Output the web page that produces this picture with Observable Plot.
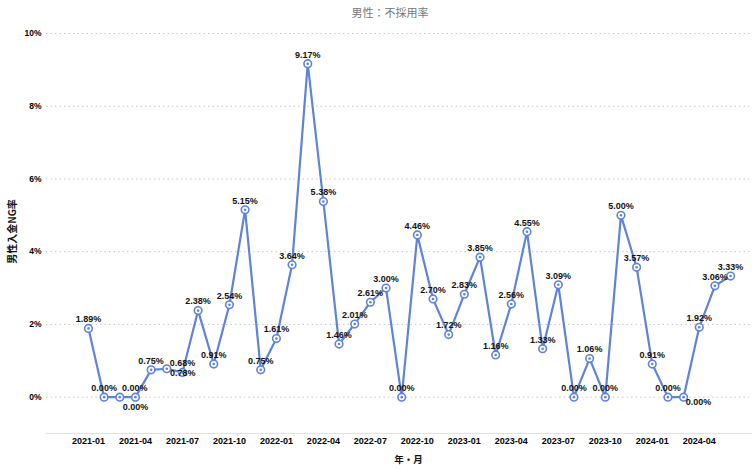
<!DOCTYPE html>
<html><head><meta charset="utf-8">
<script src="https://cdn.jsdelivr.net/npm/d3@7"></script>
<script src="https://cdn.jsdelivr.net/npm/@observablehq/plot@0.6"></script>
<style>
body{margin:0;background:#fff;font-family:"Liberation Sans",Arial,sans-serif;}
#title{height:24px;line-height:24px;text-align:center;font-family:"Noto Sans CJK JP",sans-serif;font-size:11px;color:#777;padding-left:28px;box-sizing:border-box;width:752px;}
</style></head><body>
<div id="title">男性：不採用率</div>
<div id="chart"></div>
<script>
const months = [
 "2021-01","2021-02","2021-03","2021-04","2021-05","2021-06","2021-07","2021-08","2021-09","2021-10","2021-11","2021-12",
 "2022-01","2022-02","2022-03","2022-04","2022-05","2022-06","2022-07","2022-08","2022-09","2022-10","2022-11","2022-12",
 "2023-01","2023-02","2023-03","2023-04","2023-05","2023-06","2023-07","2023-08","2023-09","2023-10","2023-11","2023-12",
 "2024-01","2024-02","2024-03","2024-04","2024-05","2024-06"];
const rates = [
 1.89,0.00,0.00,0.00,0.75,0.78,0.68,2.38,0.91,2.54,5.15,0.75,
 1.61,3.64,9.17,5.38,1.46,2.01,2.61,3.00,0.00,4.46,2.70,1.72,
 2.83,3.85,1.16,2.56,4.55,1.33,3.09,0.00,1.06,0.00,5.00,3.57,
 0.91,0.00,0.00,1.92,3.06,3.33];
const xTickLabels = ["2021-01","2021-04","2021-07","2021-10","2022-01","2022-04","2022-07","2022-10","2023-01","2023-04","2023-07","2023-10","2024-01","2024-04"];
const yTicks = [0,2,4,6,8,10];
const labelsBelow = ["2021-04"];
const labelsAboveRight = ["2021-03"];
const labelsBelowRight = ["2024-03"];
const labelsRight = ["2021-06"];

const data = months.map((m,i)=>({i, m, v: rates[i]}));
const xTickIdx = xTickLabels.map(t=>months.indexOf(t));
const color = "#5f83d9";
const fmt = d => d.v.toFixed(2) + "%";
const special = new Set([...labelsBelow,...labelsAboveRight,...labelsBelowRight,...labelsRight]);
const lab = {fontSize:9, fontWeight:"bold", fill:"#111", text: fmt, x:"i", y:"v"};
const pick = arr => data.filter(d=>arr.includes(d.m));

const chart = Plot.plot({
  width:752, height:445,
  marginLeft:46, marginRight:0, marginTop:9, marginBottom:36,
  style:{fontFamily:"'Liberation Sans', Arial, sans-serif", background:"#fff"},
  x:{domain:[-2.68,42.4], axis:null},
  y:{domain:[-1,10], axis:null},
  marks:[
    Plot.gridY(yTicks,{stroke:"#c8c8c8",strokeOpacity:1,strokeDasharray:"1.5,3"}),
    Plot.ruleY([-1],{stroke:"#e2e2e2",strokeWidth:1}),
    Plot.axisY(yTicks,{tickSize:0,tickPadding:5,tickFormat:d=>d+"%",fontWeight:"bold",fontSize:8.5,label:null}),
    Plot.axisX(xTickIdx,{y:-1,tickSize:0,tickPadding:4,tickFormat:i=>months[i],fontWeight:"bold",fontSize:9,label:null}),
    Plot.text(["年・月"],{frameAnchor:"bottom",dy:29,dx:9,fontSize:9.5,fontWeight:"bold",fontFamily:"'Noto Sans CJK JP', sans-serif",fill:"#111"}),
    Plot.text(["男性入金NG率"],{frameAnchor:"left",textAnchor:"middle",dx:-34,dy:-2,rotate:-90,fontSize:10,fontWeight:"bold",fontFamily:"'Noto Sans CJK JP', sans-serif",fill:"#111"}),
    Plot.line(data,{x:"i",y:"v",stroke:color,strokeWidth:2.2}),
    Plot.dot(data,{x:"i",y:"v",r:3.8,fill:"#fff",stroke:color,strokeWidth:1.6}),
    Plot.dot(data,{x:"i",y:"v",r:1.3,fill:color}),
    Plot.text(data.filter(d=>!special.has(d.m)),{...lab,dy:-9}),
    Plot.text(pick(labelsBelow),{...lab,dy:10}),
    Plot.text(pick(labelsAboveRight),{...lab,dy:-9,dx:15}),
    Plot.text(pick(labelsBelowRight),{...lab,dy:5,dx:15}),
    Plot.text(pick(labelsRight),{...lab,dy:4,dx:16})
  ]
});
document.getElementById("chart").appendChild(chart);
</script>
</body></html>
